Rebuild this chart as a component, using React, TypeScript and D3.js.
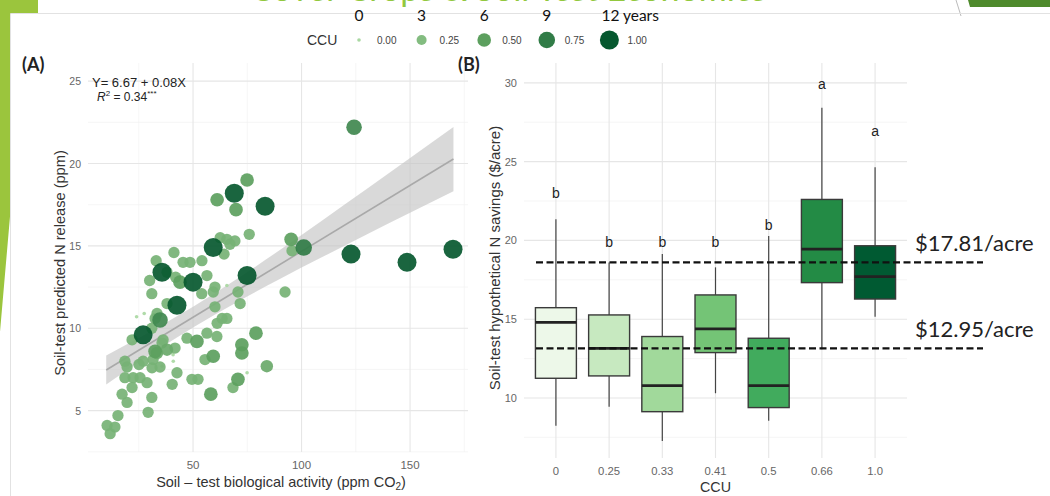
import React from 'react';
import * as d3 from 'd3';

// (A) soil-test biological activity vs predicted N release, sized and coloured by CCU
const bioActivity = [
  124.2, 74.9, 69.0, 61.1, 83.2, 69.8, 75.9, 62.5, 65.6, 69.3, 67.0, 59.3, 64.3, 95.2, 95.6, 101.0,
  122.8, 148.6, 169.8, 33.0, 41.2, 45.4, 48.6, 54.1, 35.7, 38.0, 74.9, 56.4, 50.0, 44.0, 42.0, 60.1,
  54.0, 59.3, 70.7, 92.4, 31.0, 30.0, 38.0, 42.6, 60.1, 71.7, 63.4, 65.6, 61.1, 34.8, 32.5, 33.4,
  27.0, 21.9, 31.0, 36.2, 35.7, 47.2, 51.8, 56.4, 61.0, 79.0, 72.5, 72.5, 59.3, 55.5, 84.0, 33.4,
  32.5, 38.0, 41.7, 27.0, 31.6, 19.6, 25.1, 31.1, 34.8, 18.6, 18.6, 22.4, 25.6, 28.8, 21.9, 17.3,
  19.6, 42.6, 49.5, 52.3, 70.7, 68.4, 40.4, 58.2, 31.0, 29.3, 15.4, 10.4, 14.0, 11.8, 24.0, 27.5,
  35.7, 40.9, 40.8, 74.9, 65.6,
];
const nRelease = [
  22.2, 19.0, 18.2, 17.8, 17.4, 17.2, 15.7, 15.5, 15.4, 15.3, 15.1, 14.9, 14.5, 15.4, 14.7, 14.9,
  14.5, 14.0, 14.8, 14.1, 14.6, 14.0, 14.0, 14.1, 13.4, 13.4, 13.2, 13.2, 12.8, 12.8, 13.1, 12.5,
  12.1, 12.2, 12.2, 12.2, 12.1, 12.9, 11.5, 11.4, 11.3, 11.5, 10.6, 10.6, 10.3, 10.5, 10.6, 10.9,
  9.6, 9.3, 10.0, 9.3, 9.1, 9.4, 9.2, 9.7, 9.5, 9.7, 9.0, 8.5, 8.3, 8.1, 7.7, 8.5,
  8.6, 8.7, 8.8, 8.0, 8.1, 7.65, 7.8, 7.6, 7.65, 8.0, 7.0, 7.0, 7.0, 6.7, 6.4, 6.0,
  5.5, 7.3, 6.9, 6.9, 6.9, 6.4, 6.6, 6.0, 5.8, 4.9, 4.7, 4.1, 4.0, 3.6, 10.7, 10.9,
  7.7, 8.0, 8.4, 7.3, 12.6,
];
const ccuPoint = [
  0.66, 0.5, 1, 0.5, 1, 0.5, 0.33, 0.33, 0.33, 0.33, 0.33, 1, 0.33, 0.5, 0.33, 0.75,
  1, 1, 1, 0.33, 0.33, 0.33, 0.33, 0.33, 1, 0.33, 1, 0.33, 1, 0.5, 0.33, 0.33,
  0.33, 0.33, 0.33, 0.33, 0.33, 0.33, 0.33, 1, 0.33, 0.33, 0.33, 0.33, 0.33, 0.66, 0.33, 0.33,
  1, 0.33, 0.33, 0.33, 0.33, 0.33, 0.5, 0.33, 0.33, 0.5, 0.5, 0.5, 0.5, 0.33, 0.41, 0.41,
  0.5, 0.41, 0.33, 0.33, 0.33, 0.33, 0.33, 0.33, 0.33, 0.33, 0.33, 0.33, 0.33, 0.33, 0.33, 0.33,
  0.33, 0.33, 0.33, 0.33, 0.5, 0.33, 0.33, 0.5, 0.33, 0.33, 0.33, 0.33, 0.33, 0.33, 0, 0,
  0, 0, 0, 0, 0,
];

// fitted line Y = 6.67 + 0.08X and its confidence band
const fitX = [10, 170];
const fitY = [7.47, 20.27];
const bandX = [10, 30, 50, 70, 90, 110, 130, 150, 170];
const bandLow = [6.59, 8.37, 10.04, 11.57, 12.99, 14.35, 15.69, 17.01, 18.32];
const bandHigh = [8.35, 9.77, 11.3, 12.97, 14.75, 16.59, 18.45, 20.33, 22.22];

const legendCcu = [0, 0.25, 0.5, 0.75, 1];
const legendYears = ['0', '3', '6', '9', '12'];

// (B) hypothetical N savings by CCU
const ccuCats = ['0', '0.25', '0.33', '0.41', '0.5', '0.66', '1.0'];
const whiskerHi = [21.34, 18.6, 19.13, 18.29, 20.28, 28.42, 24.64];
const q3 = [15.73, 15.27, 13.9, 16.54, 13.79, 22.6, 19.66];
const med = [14.8, 13.15, 10.78, 14.38, 10.78, 19.45, 17.7];
const q1 = [11.25, 11.4, 9.13, 12.88, 9.39, 17.32, 16.28];
const whiskerLo = [8.24, 9.45, 7.27, 10.3, 8.56, 13.09, 15.16];
const groupLetters = ['b', 'b', 'b', 'b', 'b', 'a', 'a'];
const letterAt = [23.0, 19.9, 19.9, 19.9, 21.0, 29.9, 26.96];
const boxFills = ['#edf8e9', '#c7e9c0', '#a1d99b', '#74c476', '#41ab5d', '#238b45', '#005a32'];

const refLines = [18.6, 13.15];
const refLabels = ['$17.81/acre', '$12.95/acre'];

const chartFont = '"Liberation Sans", Arial, sans-serif';
const slideFont = 'Lato, "Open Sans", sans-serif';
const majorGrid = '#e6e6e6';
const minorGrid = '#f2f2f2';

export default function App() {
  // panel A scales
  const xA = d3.scaleLinear().domain([1.6, 176.7]).range([88, 468]);
  const yA = d3.scaleLinear().domain([2.49, 26.1]).range([452, 63]);
  const rA = d3.scaleRadial().domain([0, 1]).range([1.8, 9.5]);
  const cA = d3.scaleLinear<string>().domain([0, 0.5, 1]).range(['#a9d8a2', '#5c9f5e', '#06582f']);

  // panel B scales
  const xB = d3.scalePoint<string>().domain(ccuCats).range([524, 907]).padding(0.6);
  const yB = d3.scaleLinear().domain([6.19, 31.26]).range([458, 63]);
  const boxW = xB.step() * 0.77;

  const points = bioActivity
    .map((x, i) => ({ x, y: nRelease[i], c: ccuPoint[i] }))
    .sort((a, b) => a.c - b.c);

  const band = d3.area<number>()
    .x((d, i) => xA(bandX[i]))
    .y0((d, i) => yA(bandLow[i]))
    .y1((d, i) => yA(bandHigh[i]))
    .curve(d3.curveMonotoneX);

  const fit = d3.line<number>().x((d, i) => xA(fitX[i])).y(d => yA(d));

  const [ax0, ax1] = xA.range();
  const [ay0, ay1] = yA.range();
  const [bx0, bx1] = xB.range();
  const [by0, by1] = yB.range();

  const legendX = (i: number) => 359 + i * 62.6;

  return (
    <svg width={1050} height={496} style={{ position: 'absolute', left: 0, top: 0, background: '#fff' }}>
      {/* slide decorations */}
      <text x={508} y={0.8} textAnchor="middle" fontFamily={slideFont} fontSize={34} fill="#92c83e">
        Cover Crops &amp; Soil Test Economics
      </text>
      <polygon points="0,0 38,0 38,13 11,13 11,205 0,332" fill="#9bc53d" />
      <line x1={956} y1={0} x2={961} y2={16} stroke="#bbb" strokeWidth={1} />
      <polygon points="968,0 1050,0 1050,7 970,7" fill="#4e8a2c" />
      <path d="M10.5,496 V13.5 H1050" fill="none" stroke="#e2e2e2" strokeWidth={1} />

      {/* years above the legend */}
      {legendYears.map((t, i) => (
        <text key={t} x={legendX(i) - (i === 4 ? 8 : 0)} y={21} textAnchor={i === 4 ? 'start' : 'middle'}
          fontFamily={slideFont} fontSize={15.5} fill="#111">
          {i === 4 ? `${t} years` : t}
        </text>
      ))}

      {/* CCU legend */}
      <text x={307} y={45} fontFamily={chartFont} fontSize={14} fill="#333">CCU</text>
      {legendCcu.map((c, i) => (
        <g key={c}>
          <circle cx={legendX(i)} cy={40} r={rA(c)} fill={cA(c)} />
          <text x={legendX(i) + 18} y={43.5} fontFamily={chartFont} fontSize={10} fill="#444">{c.toFixed(2)}</text>
        </g>
      ))}

      <text x={22} y={71} fontFamily={slideFont} fontWeight="bold" fontSize={18} fill="#222">(A)</text>
      <text x={458} y={71} fontFamily={slideFont} fontWeight="bold" fontSize={18} fill="#222">(B)</text>

      {/* ---------- panel A ---------- */}
      <g fontFamily={chartFont}>
        {[25, 75, 125, 175].map(v => (
          <line key={'mx' + v} x1={xA(v)} x2={xA(v)} y1={ay0} y2={ay1} stroke={minorGrid} strokeWidth={0.7} />
        ))}
        {[2.5, 7.5, 12.5, 17.5, 22.5].map(v => (
          <line key={'my' + v} x1={ax0} x2={ax1} y1={yA(v)} y2={yA(v)} stroke={minorGrid} strokeWidth={0.7} />
        ))}
        {[50, 100, 150].map(v => (
          <g key={'x' + v}>
            <line x1={xA(v)} x2={xA(v)} y1={ay0} y2={ay1} stroke={majorGrid} strokeWidth={1.1} />
            <text x={xA(v)} y={468.5} textAnchor="middle" fontSize={11.5} fill="#666">{v}</text>
          </g>
        ))}
        {[5, 10, 15, 20, 25].map(v => (
          <g key={'y' + v}>
            <line x1={ax0} x2={ax1} y1={yA(v)} y2={yA(v)} stroke={majorGrid} strokeWidth={1.1} />
            <text x={81} y={yA(v) + 4} textAnchor="end" fontSize={10.5} fill="#666">{v}</text>
          </g>
        ))}

        <path d={band(bandX) || ''} fill="#c4c4c4" opacity={0.65} />
        <path d={fit(fitY) || ''} fill="none" stroke="#a9a9a9" strokeWidth={1.6} />

        {points.map((p, i) => (
          <circle key={i} cx={xA(p.x)} cy={yA(p.y)} r={rA(p.c)} fill={cA(p.c)} opacity={0.92} />
        ))}

        <text x={92} y={87} fontSize={13} fill="#222">Y= 6.67 + 0.08X</text>
        <text x={97} y={101} fontSize={12} fill="#222">
          <tspan fontStyle="italic">R</tspan>
          <tspan dy={-5} fontSize={8}>2</tspan>
          <tspan dy={5}> = 0.34</tspan>
          <tspan dy={-5} fontSize={8}>***</tspan>
        </text>

        <text transform={`translate(65,263) rotate(-90)`} textAnchor="middle" fontSize={14.6} fill="#333">
          Soil-test predicted N release (ppm)
        </text>
        <text x={281} y={487} textAnchor="middle" fontSize={14.5} fill="#333">
          Soil – test biological activity (ppm CO<tspan dy={3} fontSize={10}>2</tspan><tspan dy={-3}>)</tspan>
        </text>
      </g>

      {/* ---------- panel B ---------- */}
      <g fontFamily={chartFont}>
        {[7.5, 12.5, 17.5, 22.5, 27.5].map(v => (
          <line key={'bmy' + v} x1={bx0} x2={bx1} y1={yB(v)} y2={yB(v)} stroke={minorGrid} strokeWidth={0.7} />
        ))}
        {[10, 15, 20, 25, 30].map(v => (
          <g key={'by' + v}>
            <line x1={bx0} x2={bx1} y1={yB(v)} y2={yB(v)} stroke={majorGrid} strokeWidth={1.1} />
            <text x={517} y={yB(v) + 4} textAnchor="end" fontSize={11} fill="#666">{v}</text>
          </g>
        ))}
        {ccuCats.map(c => (
          <g key={'bx' + c}>
            <line x1={xB(c)!} x2={xB(c)!} y1={by0} y2={by1} stroke={majorGrid} strokeWidth={1.1} />
            <text x={xB(c)!} y={474.5} textAnchor="middle" fontSize={11.3} fill="#666">{c}</text>
          </g>
        ))}

        {ccuCats.map((c, i) => {
          const cx = xB(c)!;
          return (
            <g key={'box' + c}>
              <line x1={cx} x2={cx} y1={yB(whiskerHi[i])} y2={yB(q3[i])} stroke="#444" strokeWidth={1.2} />
              <line x1={cx} x2={cx} y1={yB(q1[i])} y2={yB(whiskerLo[i])} stroke="#444" strokeWidth={1.2} />
              <rect x={cx - boxW / 2} y={yB(q3[i])} width={boxW} height={yB(q1[i]) - yB(q3[i])}
                fill={boxFills[i]} stroke="#3a3a3a" strokeWidth={1.4} />
              <line x1={cx - boxW / 2} x2={cx + boxW / 2} y1={yB(med[i])} y2={yB(med[i])} stroke="#222" strokeWidth={2.8} />
              <text x={cx} y={yB(letterAt[i]) + 5} textAnchor="middle" fontSize={14} fill="#222">{groupLetters[i]}</text>
            </g>
          );
        })}

        {refLines.map((v, i) => (
          <g key={'ref' + i}>
            <line x1={536} x2={983} y1={yB(v)} y2={yB(v)} stroke="#111" strokeWidth={2.2} strokeDasharray="7,3.5" />
            <text x={915} y={yB(v) - 11.5} fontFamily={slideFont} fontSize={22} fill="#222">{refLabels[i]}</text>
          </g>
        ))}

        <text transform={`translate(500,258) rotate(-90)`} textAnchor="middle" fontSize={15} fill="#333">
          Soil-test hypothetical N savings ($/acre)
        </text>
        <text x={(bx0 + bx1) / 2} y={492} textAnchor="middle" fontSize={14.3} fill="#333">CCU</text>
      </g>
    </svg>
  );
}
